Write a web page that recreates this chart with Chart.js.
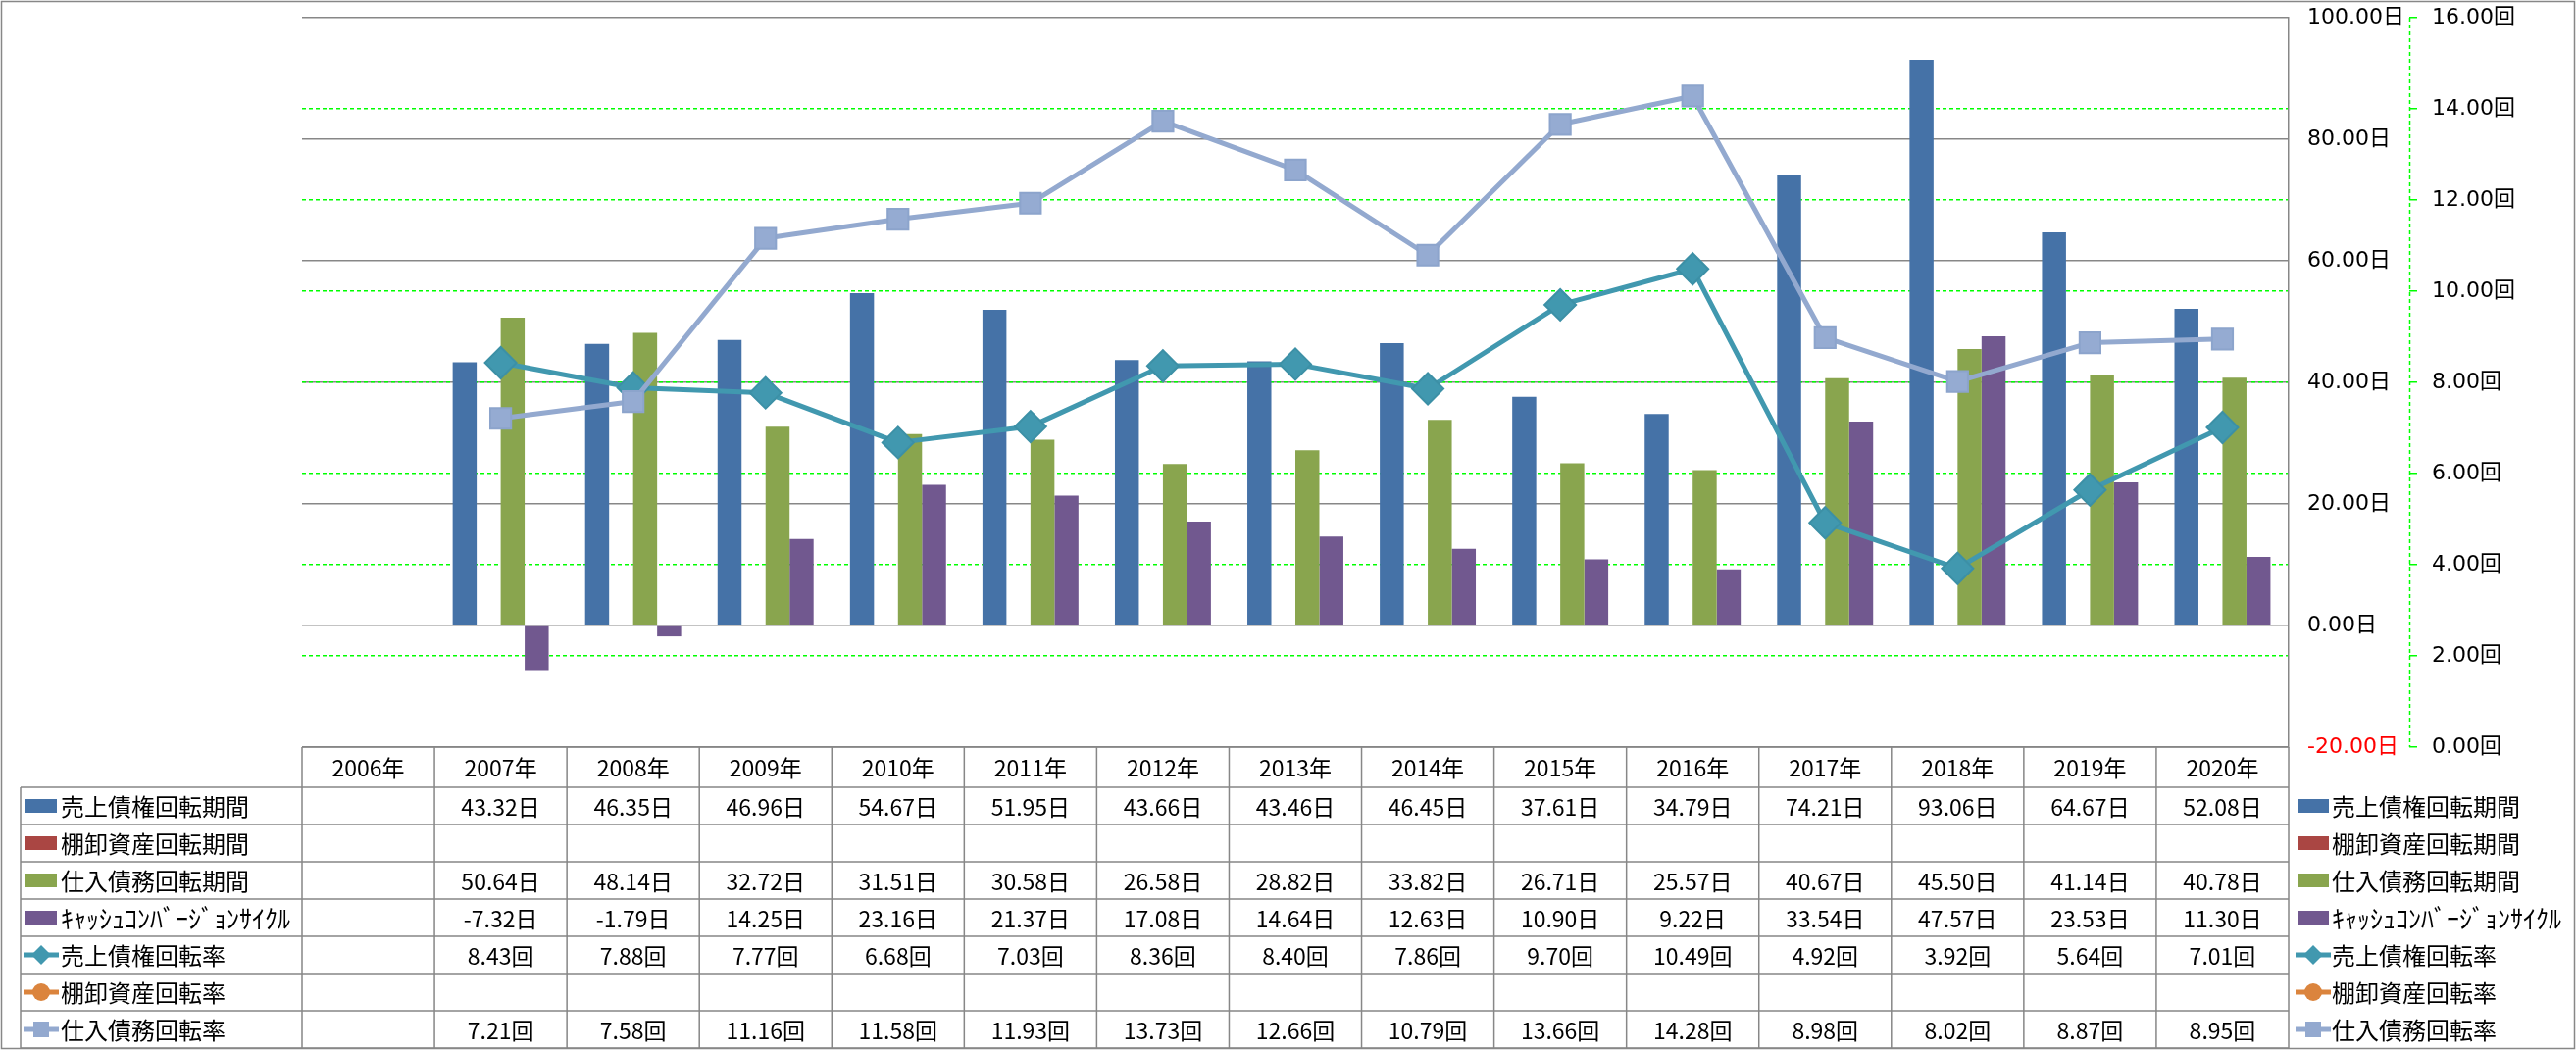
<!DOCTYPE html>
<html lang="ja">
<head>
<meta charset="utf-8">
<title>回転期間・回転率の推移</title>
<script src="https://cdn.jsdelivr.net/npm/chart.js@4.4.1/dist/chart.umd.min.js"></script>
<style>
  html, body { margin: 0; padding: 0; background: #fff; }
  #wrap { width: 2627px; height: 1071px; }
</style>
</head>
<body>
<div id="wrap"><canvas id="turnover-chart" width="2627" height="1071"></canvas></div>
<script>
// --- data ---
const categories = ['2006年', '2007年', '2008年', '2009年', '2010年', '2011年', '2012年', '2013年',
  '2014年', '2015年', '2016年', '2017年', '2018年', '2019年', '2020年'];

const seriesNames = ['売上債権回転期間', '棚卸資産回転期間', '仕入債務回転期間', 'ｷｬｯｼｭｺﾝﾊﾞｰｼﾞｮﾝｻｲｸﾙ',
  '売上債権回転率', '棚卸資産回転率', '仕入債務回転率'];

const salesDays = [null, 43.32, 46.35, 46.96, 54.67, 51.95, 43.66, 43.46, 46.45, 37.61, 34.79, 74.21, 93.06, 64.67, 52.08];
const inventoryDays = [null, null, null, null, null, null, null, null, null, null, null, null, null, null, null];
const payableDays = [null, 50.64, 48.14, 32.72, 31.51, 30.58, 26.58, 28.82, 33.82, 26.71, 25.57, 40.67, 45.50, 41.14, 40.78];
const cccDays = [null, -7.32, -1.79, 14.25, 23.16, 21.37, 17.08, 14.64, 12.63, 10.90, 9.22, 33.54, 47.57, 23.53, 11.30];
const salesTurnover = [null, 8.43, 7.88, 7.77, 6.68, 7.03, 8.36, 8.40, 7.86, 9.70, 10.49, 4.92, 3.92, 5.64, 7.01];
const inventoryTurnover = [null, null, null, null, null, null, null, null, null, null, null, null, null, null, null];
const payableTurnover = [null, 7.21, 7.58, 11.16, 11.58, 11.93, 13.73, 12.66, 10.79, 13.66, 14.28, 8.98, 8.02, 8.87, 8.95];

const dayTicks = [-20, 0, 20, 40, 60, 80, 100];
const turnTicks = [0, 2, 4, 6, 8, 10, 12, 14, 16];

// --- styles ---
const BLUE = '#4572A7', RED = '#AA4643', GREEN = '#89A54E', PURPLE = '#71588F';
const TEAL = '#4198AF', ORANGE = '#DB843D', LIGHT = '#93A9CF';
const GRID_GRAY = '#878787', DASH_GREEN = '#00FF00';
const JP = "'Noto Sans CJK JP', sans-serif";
const TICK_FONT = "'DejaVu Sans', 'Noto Sans CJK JP', sans-serif";

const tableRows = [
  { name: seriesNames[0], data: salesDays, unit: '日', kind: 'bar', color: BLUE },
  { name: seriesNames[1], data: inventoryDays, unit: '日', kind: 'bar', color: RED },
  { name: seriesNames[2], data: payableDays, unit: '日', kind: 'bar', color: GREEN },
  { name: seriesNames[3], data: cccDays, unit: '日', kind: 'bar', color: PURPLE, labelSize: 26 },
  { name: seriesNames[4], data: salesTurnover, unit: '回', kind: 'line', color: TEAL, marker: 'diamond' },
  { name: seriesNames[5], data: inventoryTurnover, unit: '回', kind: 'line', color: ORANGE, marker: 'circle' },
  { name: seriesNames[6], data: payableTurnover, unit: '回', kind: 'line', color: LIGHT, marker: 'square' }
];

function drawKey(ctx, row, x, cy) {
  ctx.save();
  if (row.kind === 'bar') {
    ctx.fillStyle = row.color;
    ctx.fillRect(x + 2, cy - 7, 32, 14);
  } else {
    ctx.strokeStyle = row.color;
    ctx.lineWidth = 5;
    ctx.beginPath();
    ctx.moveTo(x, cy); ctx.lineTo(x + 36, cy);
    ctx.stroke();
    ctx.fillStyle = row.color;
    const mx = x + 18;
    ctx.beginPath();
    if (row.marker === 'diamond') {
      ctx.moveTo(mx, cy - 10); ctx.lineTo(mx + 10, cy); ctx.lineTo(mx, cy + 10); ctx.lineTo(mx - 10, cy);
    } else if (row.marker === 'circle') {
      ctx.arc(mx, cy, 9, 0, Math.PI * 2);
    } else {
      ctx.rect(mx - 8, cy - 8, 16, 16);
    }
    ctx.closePath();
    ctx.fill();
  }
  ctx.restore();
}

const frame = {
  id: 'frame',
  beforeDraw(chart) {
    const { ctx, width, height } = chart;
    ctx.save();
    ctx.fillStyle = '#fff';
    ctx.fillRect(0, 0, width, height);
    ctx.restore();
  },
  afterDraw(chart) {
    const { ctx, chartArea } = chart;
    const xs = chart.scales.x;
    const yt = chart.scales.yTurn;
    const cw = xs.getPixelForValue(1) - xs.getPixelForValue(0);
    const left = chartArea.left, right = chartArea.right, top = chartArea.bottom;
    const headBottom = top + 41;
    const rowH = 38;
    const bottom = headBottom + rowH * tableRows.length;
    const legendLeft = 21;

    ctx.save();
    // dashed axis line of the 回 axis
    ctx.strokeStyle = DASH_GREEN;
    ctx.lineWidth = 1.5;
    ctx.setLineDash([4, 3]);
    ctx.beginPath();
    ctx.moveTo(Math.round(yt.left) + 0.5, chartArea.top);
    ctx.lineTo(Math.round(yt.left) + 0.5, chartArea.bottom);
    ctx.stroke();
    ctx.setLineDash([]);

    // table grid
    ctx.strokeStyle = GRID_GRAY;
    ctx.lineWidth = 1.5;
    ctx.beginPath();
    ctx.moveTo(left, top); ctx.lineTo(right, top);
    for (let r = 0; r <= tableRows.length; r++) {
      const y = headBottom + r * rowH;
      ctx.moveTo(legendLeft, y); ctx.lineTo(right, y);
    }
    for (let i = 0; i <= categories.length; i++) {
      const x = left + i * cw;
      ctx.moveTo(x, top); ctx.lineTo(x, bottom);
    }
    ctx.moveTo(legendLeft, headBottom); ctx.lineTo(legendLeft, bottom);
    ctx.stroke();

    // header and values
    ctx.fillStyle = '#000';
    ctx.textAlign = 'center';
    ctx.textBaseline = 'middle';
    ctx.font = '23px ' + JP;
    categories.forEach((c, i) => ctx.fillText(c, xs.getPixelForValue(i), (top + headBottom) / 2 + 1));
    tableRows.forEach((row, r) => {
      const cy = headBottom + r * rowH + rowH / 2;
      ctx.font = '23px ' + JP;
      ctx.textAlign = 'center';
      row.data.forEach((v, i) => {
        if (v !== null) ctx.fillText(v.toFixed(2) + row.unit, xs.getPixelForValue(i), cy + 1);
      });
      ctx.font = (row.labelSize || 24) + 'px ' + JP;
      ctx.textAlign = 'left';
      drawKey(ctx, row, 24, cy);
      ctx.fillText(row.name, 62, cy + 1);
      drawKey(ctx, row, 2341, cy);
      ctx.fillText(row.name, 2378, cy + 1);
    });

    // outer border
    ctx.strokeStyle = GRID_GRAY;
    ctx.lineWidth = 1.5;
    ctx.strokeRect(1.5, 1.5, 2624, 1068);
    ctx.restore();
  }
};

// the tick padding must not push the plot area down
function fixAxis(width) {
  return s => {
    s.width = width;
    s.paddingTop = 0;
    s.paddingBottom = 0;
  };
}

const ctx = document.getElementById('turnover-chart');

new Chart(ctx, {
  type: 'bar',
  data: {
    labels: categories,
    datasets: [
      { label: seriesNames[0], data: salesDays, backgroundColor: BLUE, yAxisID: 'yDays', order: 3 },
      { label: seriesNames[1], data: inventoryDays, backgroundColor: RED, yAxisID: 'yDays', order: 3 },
      { label: seriesNames[2], data: payableDays, backgroundColor: GREEN, yAxisID: 'yDays', order: 3 },
      { label: seriesNames[3], data: cccDays, backgroundColor: PURPLE, yAxisID: 'yDays', order: 3 },
      {
        type: 'line', label: seriesNames[4], data: salesTurnover, yAxisID: 'yTurn', order: 2,
        borderColor: TEAL, backgroundColor: TEAL, borderWidth: 5, borderJoinStyle: 'round',
        pointStyle: 'rectRot', pointRadius: 16, pointBorderColor: '#3C90A6', pointBorderWidth: 2
      },
      {
        type: 'line', label: seriesNames[5], data: inventoryTurnover, yAxisID: 'yTurn', order: 1,
        borderColor: ORANGE, backgroundColor: ORANGE, borderWidth: 5,
        pointStyle: 'circle', pointRadius: 10
      },
      {
        type: 'line', label: seriesNames[6], data: payableTurnover, yAxisID: 'yTurn', order: 0,
        borderColor: LIGHT, backgroundColor: '#95ABD2', borderWidth: 5, borderJoinStyle: 'round',
        pointStyle: 'rect', pointRadius: 15, pointBorderColor: '#8CA4CC', pointBorderWidth: 2
      }
    ]
  },
  options: {
    responsive: false,
    animation: false,
    devicePixelRatio: 1,
    layout: { padding: { left: 308, top: 16, bottom: 309, right: 10 } },
    datasets: { bar: { categoryPercentage: 0.725, barPercentage: 1, borderWidth: 0 } },
    scales: {
      x: { type: 'category', display: false },
      yDays: {
        type: 'linear', position: 'right', weight: 1,
        min: -20, max: 100,
        afterBuildTicks: s => { s.ticks = dayTicks.map(v => ({ value: v })); },
        afterFit: fixAxis(123),
        grid: { color: GRID_GRAY, lineWidth: 1.5, drawTicks: false },
        border: { display: true, color: GRID_GRAY, width: 1.5 },
        ticks: {
          padding: 19,
          font: { family: TICK_FONT, size: 22 },
          color: c => (c.tick && c.tick.value < 0 ? '#FF0000' : '#000000'),
          callback: v => Number(v).toFixed(2) + '日'
        }
      },
      yTurn: {
        type: 'linear', position: 'right', weight: 2,
        min: 0, max: 16,
        afterBuildTicks: s => { s.ticks = turnTicks.map(v => ({ value: v })); },
        afterFit: fixAxis(160),
        grid: {
          color: c => (c.tick && (c.tick.value === 0 || c.tick.value === 16) ? 'rgba(0,0,0,0)' : DASH_GREEN),
          tickColor: DASH_GREEN,
          lineWidth: 1.5,
          tickLength: 8,
          drawTicks: true
        },
        border: { display: false, dash: [4, 3] },
        ticks: {
          padding: 15,
          font: { family: TICK_FONT, size: 22 },
          color: '#000000',
          callback: v => Number(v).toFixed(2) + '回'
        }
      }
    },
    plugins: {
      legend: { display: false },
      tooltip: { enabled: false }
    }
  },
  plugins: [frame]
});
</script>
</body>
</html>
